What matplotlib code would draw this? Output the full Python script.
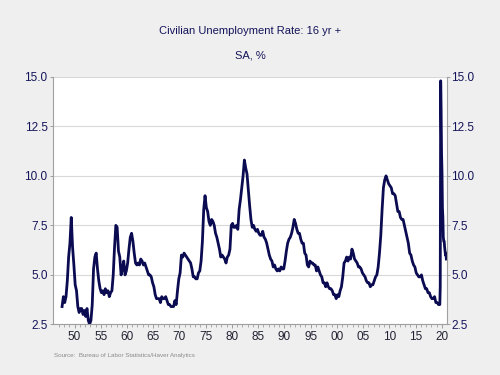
import numpy as np
import matplotlib.pyplot as plt

# quarterly samples of the unemployment rate (%), 1948Q1 .. 2019Q4
q_start = 1948
q_rate = [
    3.4, 3.9, 3.6, 3.9,   # 48
    4.7, 5.9, 6.6, 7.9,   # 49
    6.4, 5.5, 4.5, 4.2,   # 50
    3.4, 3.1, 3.3, 3.3,   # 51
    3.0, 3.2, 2.9, 3.3,   # 52
    2.7, 2.5, 2.7, 3.5,   # 53
    5.3, 5.9, 6.1, 5.3,   # 54
    4.7, 4.3, 4.1, 4.2,   # 55
    4.0, 4.3, 4.1, 4.2,   # 56
    3.9, 4.1, 4.2, 5.0,   # 57
    6.4, 7.5, 7.4, 6.2,   # 58
    5.9, 5.0, 5.3, 5.7,   # 59
    5.0, 5.2, 5.6, 6.3,   # 60
    6.9, 7.1, 6.7, 6.1,   # 61
    5.6, 5.5, 5.6, 5.5,   # 62
    5.8, 5.7, 5.5, 5.6,   # 63
    5.4, 5.2, 5.0, 5.0,   # 64
    4.9, 4.6, 4.4, 4.0,   # 65
    3.8, 3.8, 3.8, 3.6,   # 66
    3.9, 3.8, 3.8, 3.9,   # 67
    3.7, 3.5, 3.5, 3.4,   # 68
    3.4, 3.4, 3.7, 3.5,   # 69
    4.2, 4.8, 5.1, 6.0,   # 70
    5.9, 6.1, 6.0, 5.9,   # 71
    5.8, 5.7, 5.6, 5.3,   # 72
    4.9, 4.9, 4.8, 4.8,   # 73
    5.1, 5.2, 5.7, 6.7,   # 74
    8.3, 9.0, 8.4, 8.2,   # 75
    7.7, 7.5, 7.8, 7.7,   # 76
    7.5, 7.1, 6.9, 6.6,   # 77
    6.3, 5.9, 6.0, 5.9,   # 78
    5.8, 5.6, 5.9, 6.0,   # 79
    6.3, 7.5, 7.6, 7.4,   # 80
    7.4, 7.5, 7.3, 8.3,   # 81
    8.8, 9.4, 10.0, 10.8, # 82
    10.4, 10.1, 9.3, 8.5, # 83
    7.8, 7.4, 7.5, 7.3,   # 84
    7.2, 7.3, 7.1, 7.0,   # 85
    7.0, 7.2, 6.9, 6.8,   # 86
    6.6, 6.3, 6.0, 5.8,   # 87
    5.7, 5.4, 5.5, 5.3,   # 88
    5.2, 5.3, 5.2, 5.4,   # 89
    5.3, 5.3, 5.7, 6.2,   # 90
    6.6, 6.8, 6.9, 7.1,   # 91
    7.4, 7.8, 7.6, 7.3,   # 92
    7.1, 7.1, 6.8, 6.6,   # 93
    6.6, 6.1, 6.0, 5.5,   # 94
    5.4, 5.7, 5.6, 5.6,   # 95
    5.5, 5.5, 5.2, 5.4,   # 96
    5.2, 5.0, 4.9, 4.6,   # 97
    4.6, 4.4, 4.6, 4.4,   # 98
    4.3, 4.3, 4.2, 4.0,   # 99
    4.0, 3.8, 4.0, 3.9,   # 00
    4.2, 4.4, 4.9, 5.6,   # 01
    5.7, 5.9, 5.7, 5.9,   # 02
    5.8, 6.3, 6.1, 5.8,   # 03
    5.7, 5.6, 5.4, 5.4,   # 04
    5.3, 5.1, 5.0, 4.9,   # 05
    4.7, 4.6, 4.6, 4.4,   # 06
    4.5, 4.5, 4.7, 4.9,   # 07
    5.0, 5.4, 6.1, 7.0,   # 08
    8.3, 9.4, 9.8, 10.0,  # 09
    9.8, 9.6, 9.5, 9.4,   # 10
    9.1, 9.1, 9.0, 8.6,   # 11
    8.2, 8.2, 7.9, 7.8,   # 12
    7.8, 7.5, 7.2, 6.9,   # 13
    6.6, 6.1, 6.0, 5.7,   # 14
    5.5, 5.4, 5.1, 5.0,   # 15
    4.9, 4.9, 5.0, 4.7,   # 16
    4.5, 4.3, 4.3, 4.1,   # 17
    4.1, 3.9, 3.8, 3.8,   # 18
    3.9, 3.6, 3.6, 3.5,   # 19
]

# monthly values, Jan 2020 .. May 2021
m_rate = [3.5, 3.5, 4.4, 14.8, 13.3, 11.1, 10.2, 8.4, 7.9, 6.9, 6.7, 6.7,
          6.4, 6.2, 6.0, 6.1, 5.8]

tick_years = list(range(1950, 2021, 5))
tick_labels = [f"{y % 100:02d}" for y in tick_years]

q_x = q_start + np.arange(len(q_rate)) / 4 + 0.125
m_x = 2020 + np.arange(len(m_rate)) / 12 + 1 / 24
x = np.concatenate([q_x, m_x])
y = np.array(q_rate + m_rate)

navy = '#14145a'
plt.rcParams['font.family'] = ['Liberation Sans', 'DejaVu Sans']

fig = plt.figure(figsize=(5, 3.75), dpi=100, facecolor='#efefef')
ax = fig.add_axes([0.105, 0.135, 0.788, 0.66])
ax.set_facecolor('white')

ax.plot(x, y, color='#0b0b52', linewidth=2.0, solid_joinstyle='round')

ax.set_xlim(1946.3, 2021.4)
ax.set_ylim(2.5, 15.0)
yt = np.arange(2.5, 15.01, 2.5)
ax.set_yticks(yt)
ax.set_yticklabels([f"{v:.1f}" for v in yt])
ax.yaxis.grid(True, color='#d8d8d8', linewidth=0.8)
ax.set_axisbelow(True)
ax.tick_params(axis='y', which='both', left=True, right=True, labelleft=True,
               labelright=True, direction='out', length=2, width=0.6,
               color='#909090', labelsize=8.5, labelcolor=navy, pad=1.5)

ax.set_xticks([t + 0.5 for t in tick_years])
ax.set_xticklabels(tick_labels)
ax.set_xticks(np.arange(1947, 2021) + 0.5, minor=True)
ax.tick_params(axis='x', which='major', direction='out', length=3, width=0.6,
               color='#909090', labelsize=8.5, labelcolor='#222233', pad=2)
ax.tick_params(axis='x', which='minor', direction='out', length=2, width=0.5,
               color='#909090')

for s in ['left', 'right', 'bottom']:
    ax.spines[s].set_color('#a0a0a0')
    ax.spines[s].set_linewidth(0.8)
ax.spines['top'].set_visible(False)

fig.text(0.5, 0.918, 'Civilian Unemployment Rate: 16 yr +', ha='center',
         va='center', fontsize=8, color=navy)
fig.text(0.5, 0.853, 'SA, %', ha='center', va='center', fontsize=8, color=navy)
fig.text(0.108, 0.052, 'Source:  Bureau of Labor Statistics/Haver Analytics',
         ha='left', va='center', fontsize=4.5, color='#8a8a8a')

fig.savefig('out.png', dpi=100, facecolor=fig.get_facecolor())
